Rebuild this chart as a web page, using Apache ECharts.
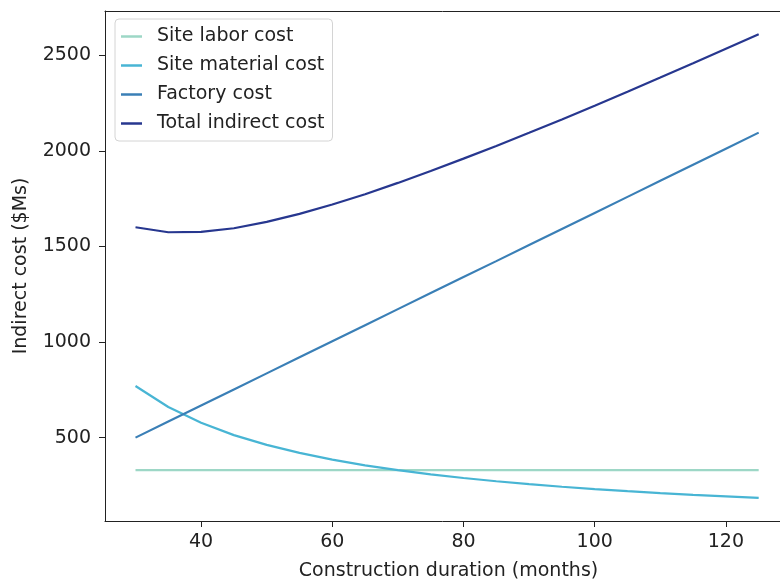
<!DOCTYPE html>
<html>
<head>
<meta charset="utf-8">
<script src="https://cdn.jsdelivr.net/npm/echarts@6/dist/echarts.min.js"></script>
<style>
  html, body { margin: 0; padding: 0; background: #fff; }
  #main { width: 780px; height: 580px; }
</style>
</head>
<body>
<div id="main"></div>
<script>
// data
var months = [30, 35, 40, 45, 50, 55, 60, 65, 70, 75, 80, 85, 90, 95, 100, 105, 110, 115, 120, 125];
var siteLabor = [330, 330, 330, 330, 330, 330, 330, 330, 330, 330, 330, 330, 330, 330, 330, 330, 330, 330, 330, 330];
var siteMaterial = [770, 660, 578, 513, 462, 420, 385, 355, 330, 308, 289, 272, 257, 243, 231, 220, 210, 201, 193, 185];
var factory = [500, 584, 668, 752, 836, 920, 1004, 1088, 1172, 1256, 1340, 1423, 1507, 1591, 1675, 1759, 1843, 1927, 2011, 2095];
var totalIndirect = [1600, 1574, 1576, 1595, 1628, 1670, 1719, 1773, 1832, 1894, 1959, 2025, 2094, 2164, 2236, 2309, 2383, 2458, 2534, 2610];
var xTicks = [40, 60, 80, 100, 120];
var yTicks = [500, 1000, 1500, 2000, 2500];

var names = ['Site labor cost', 'Site material cost', 'Factory cost', 'Total indirect cost'];
var colors = ['#9dd7c6', '#48b5d4', '#3a7fb6', '#27378f'];

function pairs(xs, ys) {
    var out = [];
    for (var i = 0; i < xs.length; i++) out.push([xs[i], ys[i]]);
    return out;
}

var font = 'DejaVu Sans';
var fs = 19;
var ink = '#222';
var myChart = echarts.init(document.getElementById('main'));

// the reference is cut off at the right, so the plot runs to the page edge
var option = {
    animation: false,
    backgroundColor: '#fff',
    color: colors,
    grid: { left: 105, top: 11, right: 0, bottom: 59, outerBoundsMode: 'none' },
    legend: {
        orient: 'vertical',
        left: 115, top: 19,
        padding: [8, 8, 8, 6],
        itemWidth: 21, itemHeight: 2.5, itemGap: 10,
        icon: 'rect',
        borderColor: '#d4d4d4', borderWidth: 1, borderRadius: 4,
        textStyle: { fontFamily: font, fontSize: fs, color: ink, padding: [0, 0, 0, 10] },
        data: names
    },
    xAxis: [{
        type: 'value',
        min: 25.35, max: 128.25,
        name: 'Construction duration (months)',
        nameLocation: 'middle', nameGap: 41,
        // centred on the full (cut off) plot width, as in the reference
        nameTextStyle: { fontFamily: font, fontSize: fs, color: ink, padding: [0, 0, 0, 12] },
        axisLine: { show: true, onZero: false, lineStyle: { color: ink, width: 1 } },
        axisTick: { show: true, length: 6, customValues: xTicks, lineStyle: { color: ink } },
        axisLabel: { fontFamily: font, fontSize: fs, color: ink, margin: 12, customValues: xTicks },
        splitLine: { show: false }
    }, {
        type: 'value', position: 'top',
        min: 25.35, max: 128.25,
        axisLine: { show: true, onZero: false, lineStyle: { color: ink, width: 1 } },
        axisTick: { show: false }, axisLabel: { show: false }, splitLine: { show: false }
    }],
    yAxis: {
        type: 'value',
        min: 64, max: 2731,
        name: 'Indirect cost ($Ms)',
        nameLocation: 'middle', nameGap: 74,
        nameTextStyle: { fontFamily: font, fontSize: fs, color: ink },
        axisLine: { show: true, onZero: false, lineStyle: { color: ink, width: 1 } },
        axisTick: { show: true, length: 6, customValues: yTicks, lineStyle: { color: ink } },
        axisLabel: {
            fontFamily: font, fontSize: fs, color: ink, margin: 14, customValues: yTicks,
            formatter: function (v) { return String(v); }
        },
        splitLine: { show: false }
    },
    series: [
        { name: names[0], type: 'line', symbol: 'none', lineStyle: { width: 2.2 }, data: pairs(months, siteLabor) },
        { name: names[1], type: 'line', symbol: 'none', lineStyle: { width: 2.2 }, data: pairs(months, siteMaterial) },
        { name: names[2], type: 'line', symbol: 'none', lineStyle: { width: 2.2 }, data: pairs(months, factory) },
        { name: names[3], type: 'line', symbol: 'none', lineStyle: { width: 2.2 }, data: pairs(months, totalIndirect) }
    ]
};

myChart.setOption(option);
</script>
</body>
</html>
